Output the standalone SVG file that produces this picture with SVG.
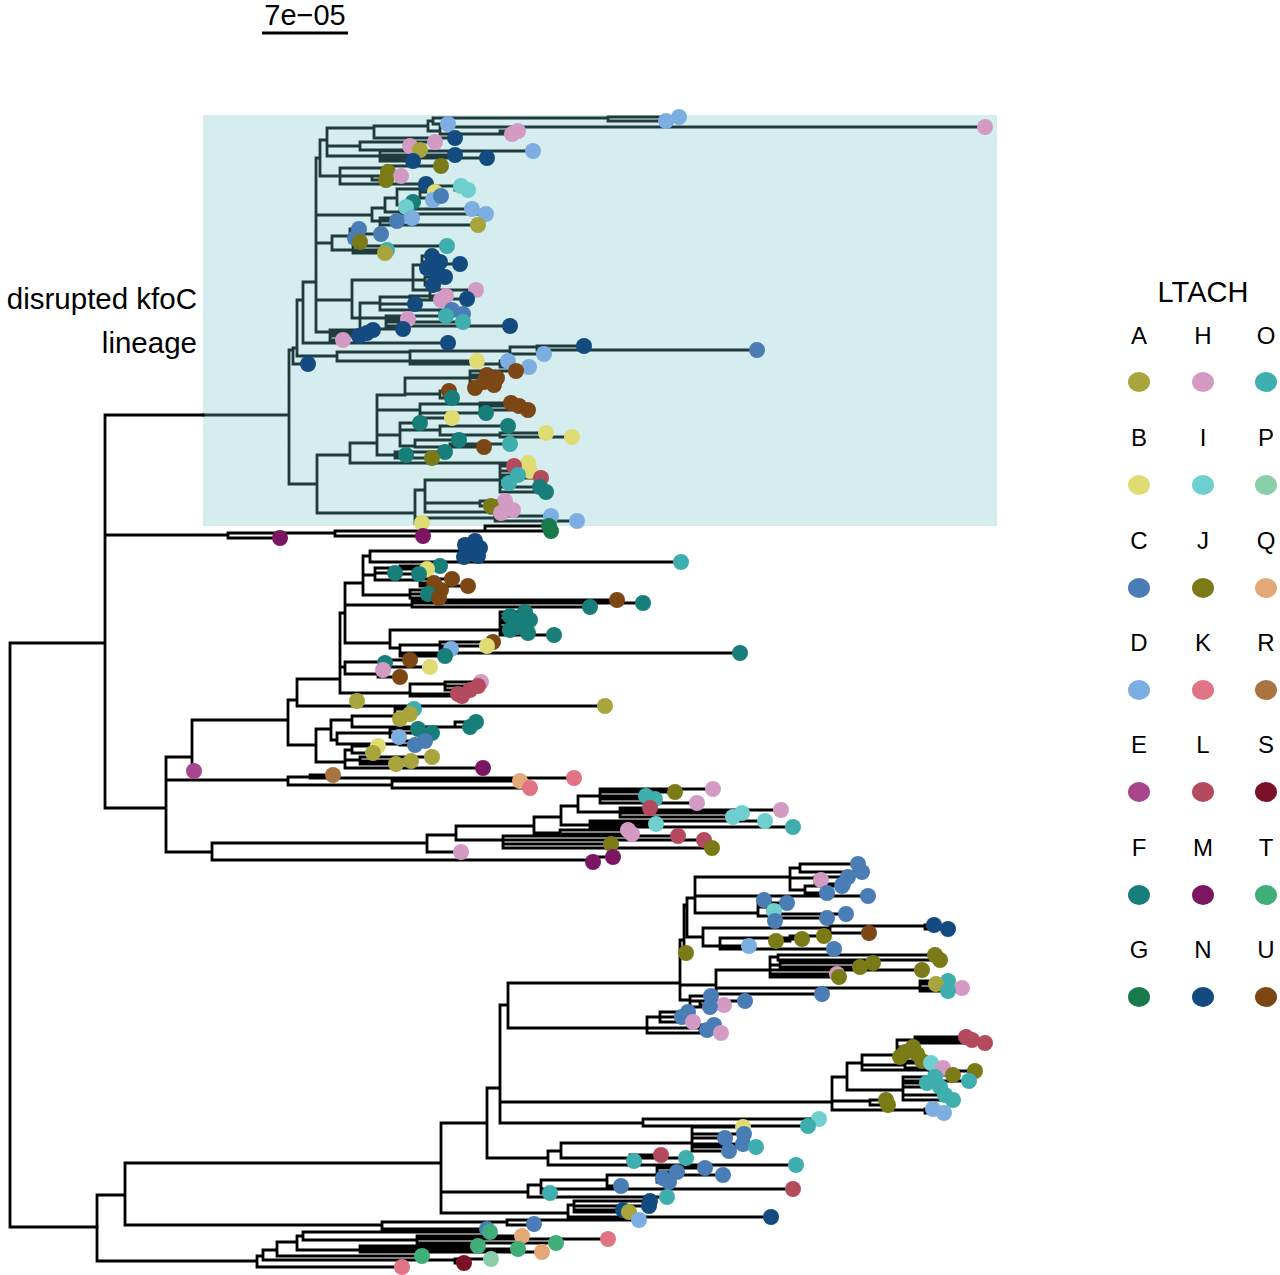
<svg xmlns="http://www.w3.org/2000/svg" width="1280" height="1275" viewBox="0 0 1280 1275">
<style>
.t{fill:none;stroke:#000;stroke-width:2.8;stroke-linecap:square}
.tb{fill:none;stroke:#1f3b3c;stroke-width:2.8;stroke-linecap:square}
.lbl{font-family:"Liberation Sans",Arial,sans-serif;fill:#000}
.a{fill:#A8A53C}.h{fill:#D39BC3}.o{fill:#3FAEAE}.b{fill:#E0DC74}.i{fill:#6FCFCF}.p{fill:#8ACFAA}.c{fill:#4A7CB5}
.j{fill:#7A7A17}.q{fill:#E3A877}.d{fill:#7CAEE2}.k{fill:#E07484}.r{fill:#A97440}.e{fill:#A8468D}.l{fill:#B44A5D}
.s{fill:#7A1128}.f{fill:#177E7A}.m{fill:#7B1662}.tt{fill:#40AE79}.g{fill:#187A4A}.n{fill:#134B80}.u{fill:#7C4714}
</style>
<rect width="1280" height="1275" fill="#fff"/>
<g id="scale-bar">
<text class="lbl" x="305" y="25" font-size="29" text-anchor="middle">7e−05</text>
<line x1="262" y1="33" x2="348" y2="33" stroke="#000" stroke-width="3"/>
</g>
<g id="highlight">
<rect x="203" y="115" width="794" height="411" fill="#d6edef"/>
<text class="lbl" x="197" y="309" font-size="29.5" text-anchor="end">disrupted kfoC</text>
<text class="lbl" x="197" y="353" font-size="29.5" text-anchor="end">lineage</text>
</g>
<g id="connectors">
<path class="tb" d="M203,415H289 M289,350V484 M289,350H293 M293,348V364 M293,364H308 M293,348H297 M297,300V356
M297,356H337 M337,352V361 M337,361H477 M337,352H410 M410,351V364 M410,364H500 M500,361V367 M500,361H508 M500,367H529 M410,351H510 M510,347V354 M510,354H544 M510,347H537 M537,346V350 M537,346H584 M537,350H757
M297,300H303 M303,282V343 M303,343H448 M303,282H316 M316,158V332
M316,158H320 M320,140V176 M320,140H327 M327,128V156 M327,128H374 M374,126V138 M374,138H455 M374,126H428 M428,121V131
M428,121H433 M433,118V124 M433,124H448 M433,118H608 M608,117V121 M608,117H679 M608,121H666
M428,131H440 M440,127V134 M440,127H985 M440,134H500 M500,131V134 M500,131H518 M500,134H512
M327,146H360 M360,142V150 M360,142H405 M405,142V146 M405,142H435 M405,146H410 M360,150H420
M327,156H380 M380,151V161 M380,151H533 M380,155H455 M380,158H487 M380,161H413
M320,176H340 M340,168V184 M340,168H386 M386,166V172 M386,166H441 M386,172H388 M340,176H372 M372,176V180 M372,176H401 M372,180H386 M340,184H426
M316,215H372 M372,208V221 M372,208H385 M385,198V212 M385,212H400 M400,209V214 M400,209H472 M400,214H486
M385,198H397 M397,189V205 M397,205H404 M404,202V207 M404,202H413 M404,207H406
M397,189H420 M420,186V198 M420,186H455 M455,186V190 M455,186H461 M455,190H468 M420,192H435 M420,198H430 M430,196V200 M430,196H441 M430,200H433
M372,221H380 M380,218V225 M380,218H412 M380,221H397 M380,225H478
M316,243H332 M332,236V250 M332,236H350 M350,229V242 M350,229H359 M350,234H381 M350,238H355 M350,242H360
M332,250H353 M353,246V253 M353,246H447 M353,250H387 M353,253H385
M316,300H352 M352,280V318 M352,280H413 M413,265V290 M413,265H422 M422,256V272 M422,256H432 M422,262H440 M422,264H460 M422,268H427 M422,272H437
M413,280H425 M425,277V285 M425,277H445 M425,285H433 M413,290H430 M430,290V299 M430,290H476 M430,299H467
M352,318H360 M360,303V329 M360,303H380 M380,297V310 M380,297H410 M410,296V300 M410,296H446 M410,300H441 M380,304H415 M380,310H440 M440,310V314 M440,310H452 M440,314H463
M360,318H386 M386,316V326 M386,316H446 M386,319H408 M386,322H463 M386,326H510 M360,329H403
M316,332H330 M330,330V340 M330,330H373 M330,333H367 M330,336H359 M330,340H343
M289,484H317 M317,455V513 M317,455H350 M350,443V463 M350,463H528 M350,443H377 M377,395V455
M377,395H405 M405,378V394 M405,378H470 M470,371V388 M470,371H516 M470,375H487 M470,378H497 M470,382H484 M470,385H494 M470,388H475
M405,394H440 M440,391V398 M440,391H449 M440,398H452
M377,410H420 M420,404V418 M420,404H480 M480,403V410 M480,403H511 M480,406H519 M480,410H528 M420,413H486 M420,418H452
M377,435H400 M400,423V446 M400,423H420 M400,430H440 M440,426V435 M440,426H508 M440,435H500 M500,433V437 M500,433H546 M500,437H572 M400,446H415 M415,440V447 M415,440H459 M415,447H450 M450,444V447 M450,444H510 M450,447H484
M377,455H395 M395,452V458 M395,452H445 M395,455H406 M395,458H432
M317,513H415 M415,490V523 M415,490H425 M425,480V512 M425,480H500 M500,466V492 M500,466H514 M500,471H530 M500,475H518 M500,478H541 M500,483H509 M500,487H540 M500,492H546
M425,503H480 M480,501V506 M480,501H505 M480,506H491 M425,512H490 M490,510V513 M490,510H513 M490,513H501
M415,518H495 M495,516V521 M495,516H551 M495,521H577 M415,523H422"/>
<path class="t" d="M10,643V1227 M10,643H105 M10,1227H97 M105,415V808 M105,415H203
M105,535H228 M228,533V538 M228,538H280 M228,533H335 M335,531V536 M335,536H423 M335,531H485 M485,526V531 M485,526H549 M485,531H551
M105,808H166 M166,757V852 M166,757H192 M192,720V771 M192,771H194 M192,720H288 M288,700V745
M288,700H297 M297,679V706 M297,679H340 M340,613V693 M297,706H352 M352,701V706 M352,701H357 M352,706H605
M288,745H316 M316,729V762 M316,729H331 M331,720V740 M331,720H352 M352,716V727 M352,716H395 M395,709V719 M395,709H414 M395,714H410 M395,719H400 M352,727H455 M455,722V727 M455,722H476 M455,727H470
M331,740H337 M337,733V744 M337,733H390 M390,729V737 M390,729H418 M390,733H432 M390,737H399 M337,744H400 M400,741V745 M400,741H425 M400,745H415
M316,762H345 M345,750V768 M345,750H352 M352,746V753 M352,746H378 M352,753H373 M345,760H360 M360,757V764 M360,757H432 M360,761H411 M360,764H396 M345,768H483
M340,613H345 M345,583V643 M345,583H363 M363,556V595 M363,556H370 M370,551V562 M370,551H460 M460,541V557 M460,541H475 M460,545H465 M460,548H480 M460,552H470 M460,556H478 M370,562H681
M363,575H375 M375,568V580 M375,568H400 M400,566V574 M400,566H440 M400,569H427 M400,574H419 M375,573H395 M375,580H420 M420,579V586 M420,579H452 M420,583H434 M420,586H468
M363,595H410 M410,590V598 M410,590H441 M410,594H428 M410,598H439
M345,605H412 M412,600V607 M412,600H617 M412,603H643 M412,607H590
M345,643H390 M390,630V648 M390,630H500 M500,612V635 M500,612H525 M500,616H510 M500,620H530 M500,623H515 M500,627H518 M500,630H510 M500,633H528 M500,635H554
M390,648H400 M400,645V656 M400,645H440 M440,642V649 M440,642H493 M440,646H487 M440,649H451 M400,653H740 M400,656H445
M340,667H345 M345,662V674 M345,662H380 M380,660V667 M380,660H410 M380,663H385 M380,667H430 M345,674H378 M378,670V677 M378,670H383 M378,677H400
M340,693H410 M410,684V696 M410,684H445 M445,682V690 M445,682H481 M445,686H478 M445,690H470 M410,694H458 M410,696H462
M166,780H288 M288,777V785 M288,777H310 M310,775V778 M310,775H333 M310,778H574 M288,785H392 M392,781V788 M392,781H520 M392,788H530
M166,852H212 M212,843V860 M212,843H427 M427,835V852 M427,852H461 M427,835H456 M456,826V840 M456,826H534 M534,817V833 M534,817H561 M561,806V825 M561,806H578 M578,796V812
M578,796H600 M600,789V803 M600,789H713 M600,792H675 M600,796H646 M600,799H655 M600,803H697
M578,812H620 M620,808V817 M620,808H650 M620,810H781 M620,813H742 M620,817H733
M561,825H590 M590,821V827 M590,821H765 M590,824H656 M590,827H793 M534,833H560 M560,830V834 M560,830H628 M560,834H632
M456,840H503 M503,836V848 M503,836H678 M503,840H704 M503,844H611 M503,848H712 M212,860H590 M590,857V862 M590,857H613 M590,862H593"/>
<path class="t" d="M97,1195V1261 M97,1195H125 M125,1163V1225 M125,1163H441 M441,1123V1213 M441,1123H487 M487,1088V1158 M487,1088H500 M500,1005V1123 M500,1005H508 M508,983V1028
M508,983H680 M680,940V1000 M680,940H684 M684,905V953 M684,953H686 M684,905H687 M687,898V937 M687,898H695 M695,877V913
M695,877H790 M790,868V890 M790,868H800 M800,864V872 M800,864H858 M800,872H862 M790,878H815 M815,877V884 M815,877H848 M815,880H821 M815,884H843 M790,890H805 M805,886V893 M805,886H842 M805,893H827 M695,896H868
M695,913H758 M758,900V916 M758,900H764 M758,907H768 M768,903V911 M768,903H787 M768,911H774 M758,916H770 M770,914V921 M770,914H846 M770,918H827 M770,921H775
M687,937H703 M703,928V946 M703,928H830 M830,926V933 M830,926H925 M925,925V929 M925,925H934 M925,929H948 M830,933H869
M703,946H720 M720,938V949 M720,938H790 M790,936V941 M790,936H824 M790,939H802 M790,941H776 M720,946H749 M720,949H834
M680,985H716 M716,970V994 M716,970H770 M770,957V977 M770,957H778 M778,955V960 M778,955H935 M778,960H940 M770,965H780 M780,963V967 M780,963H873 M780,967H860 M770,970H922 M770,974H837 M770,977H839
M716,988H920 M920,981V991 M920,981H948 M920,984H936 M920,988H962 M920,991H948 M716,994H822
M680,1000H690 M690,996V1007 M690,996H711 M690,1001H700 M700,1001V1005 M700,1001H745 M700,1005H724 M690,1007H710
M508,1028H647 M647,1017V1033 M647,1017H660 M660,1012V1022 M660,1012H688 M660,1017H682 M660,1022H693 M647,1028H700 M700,1025V1030 M700,1025H714 M700,1030H707 M647,1033H721
M500,1102H832 M832,1077V1110 M832,1077H847 M847,1063V1090 M847,1063H862 M862,1055V1070 M862,1055H897 M897,1040V1061
M897,1040H915 M915,1037V1043 M915,1037H966 M915,1040H972 M915,1043H985 M897,1047H913 M897,1052H905 M897,1054H917 M897,1057H900 M897,1061H922
M862,1065H905 M905,1063V1068 M905,1063H931 M905,1068H943 M862,1070H930 M930,1071V1075 M930,1071H975 M930,1075H953
M847,1090H903 M903,1077V1100 M903,1077H935 M903,1081H969 M903,1083H927 M903,1087H940 M903,1095H945 M903,1100H953
M832,1101H870 M870,1100V1105 M870,1100H886 M870,1105H888 M832,1110H925 M925,1109V1113 M925,1109H933 M925,1113H944
M500,1123H643 M643,1119V1126 M643,1119H819 M643,1126H808
M487,1158H548 M548,1151V1165 M548,1151H561 M561,1143V1158 M561,1143H692 M692,1127V1151 M692,1127H743 M692,1134H744 M692,1138H725 M692,1144H743 M692,1147H756 M692,1151H729
M561,1158H630 M630,1155V1161 M630,1155H661 M630,1158H686 M630,1161H634 M548,1165H796
M441,1192H528 M528,1185V1197 M528,1185H541 M541,1180V1193 M541,1180H607 M607,1175V1186 M607,1175H657 M657,1168V1182 M657,1168H705 M657,1172H677 M657,1175H723 M657,1178H663 M657,1182H669 M607,1186H621 M541,1189H793 M541,1193H550 M528,1197H667
M441,1213H568 M568,1205V1217 M568,1205H574 M574,1201V1212 M574,1201H650 M574,1206H649 M574,1210H623 M574,1212H629 M568,1217H771
M125,1225H382 M382,1222V1229 M382,1222H507 M507,1220V1225 M507,1220H639 M507,1225H534 M382,1229H487
M97,1261H257 M257,1256V1267 M257,1267H402 M257,1256H263 M263,1250V1260 M263,1260H455 M455,1259V1263 M455,1259H491 M455,1263H464
M263,1250H277 M277,1242V1256 M277,1256H422 M277,1242H297 M297,1236V1250 M297,1236H303 M303,1232V1240 M303,1232H490 M303,1240H417 M417,1236V1243 M417,1236H522 M417,1239H608 M417,1243H556
M297,1250H360 M360,1246V1252 M360,1246H478 M360,1249H518 M360,1252H542"/>
</g>
<g id="tips-kfoC">
<circle class="n" cx="308" cy="364" r="8"/><circle class="b" cx="477" cy="361" r="8"/><circle class="d" cx="508" cy="361" r="8"/><circle class="d" cx="529" cy="367" r="8"/><circle class="d" cx="544" cy="354" r="8"/><circle class="n" cx="584" cy="346" r="8"/><circle class="c" cx="757" cy="350" r="8"/><circle class="n" cx="448" cy="343" r="8"/>
<circle class="d" cx="679" cy="117" r="8"/><circle class="d" cx="666" cy="121" r="8"/><circle class="d" cx="448" cy="124" r="8"/><circle class="n" cx="455" cy="138" r="8"/><circle class="h" cx="985" cy="127" r="8"/><circle class="h" cx="518" cy="131" r="8"/><circle class="h" cx="512" cy="134" r="8"/><circle class="h" cx="435" cy="142" r="8"/><circle class="h" cx="410" cy="146" r="8"/><circle class="a" cx="420" cy="150" r="8"/><circle class="d" cx="533" cy="151" r="8"/><circle class="n" cx="455" cy="155" r="8"/><circle class="n" cx="487" cy="158" r="8"/><circle class="n" cx="413" cy="161" r="8"/><circle class="j" cx="441" cy="166" r="8"/><circle class="j" cx="388" cy="172" r="8"/><circle class="h" cx="401" cy="176" r="8"/><circle class="j" cx="386" cy="180" r="8"/><circle class="n" cx="426" cy="184" r="8"/>
<circle class="d" cx="472" cy="209" r="8"/><circle class="d" cx="486" cy="214" r="8"/><circle class="f" cx="413" cy="202" r="8"/><circle class="i" cx="406" cy="207" r="8"/><circle class="i" cx="461" cy="186" r="8"/><circle class="i" cx="468" cy="190" r="8"/><circle class="b" cx="435" cy="192" r="8"/><circle class="d" cx="433" cy="200" r="8"/><circle class="c" cx="441" cy="196" r="8"/><circle class="c" cx="397" cy="221" r="8"/><circle class="d" cx="412" cy="218" r="8"/><circle class="a" cx="478" cy="225" r="8"/>
<circle class="c" cx="359" cy="229" r="8"/><circle class="c" cx="381" cy="234" r="8"/><circle class="c" cx="355" cy="238" r="8"/><circle class="j" cx="360" cy="242" r="8"/><circle class="o" cx="447" cy="246" r="8"/><circle class="o" cx="387" cy="250" r="8"/><circle class="a" cx="385" cy="253" r="8"/>
<circle class="n" cx="432" cy="256" r="8"/><circle class="n" cx="440" cy="262" r="8"/><circle class="n" cx="460" cy="264" r="8"/><circle class="n" cx="427" cy="268" r="8"/><circle class="n" cx="437" cy="272" r="8"/><circle class="n" cx="445" cy="277" r="8"/><circle class="n" cx="433" cy="285" r="8"/><circle class="h" cx="476" cy="290" r="8"/><circle class="n" cx="467" cy="299" r="8"/><circle class="h" cx="446" cy="296" r="8"/><circle class="h" cx="441" cy="300" r="8"/><circle class="n" cx="415" cy="304" r="8"/><circle class="c" cx="452" cy="310" r="8"/><circle class="c" cx="463" cy="314" r="8"/><circle class="o" cx="446" cy="316" r="8"/><circle class="h" cx="408" cy="319" r="8"/><circle class="o" cx="463" cy="322" r="8"/><circle class="n" cx="510" cy="326" r="8"/><circle class="n" cx="403" cy="329" r="8"/>
<circle class="n" cx="373" cy="330" r="8"/><circle class="n" cx="367" cy="333" r="8"/><circle class="n" cx="359" cy="336" r="8"/><circle class="h" cx="343" cy="340" r="8"/>
<circle class="b" cx="528" cy="463" r="8"/><circle class="u" cx="516" cy="371" r="8"/><circle class="u" cx="487" cy="375" r="8"/><circle class="u" cx="497" cy="378" r="8"/><circle class="u" cx="484" cy="382" r="8"/><circle class="u" cx="494" cy="385" r="8"/><circle class="u" cx="475" cy="388" r="8"/><circle class="u" cx="449" cy="391" r="8"/><circle class="f" cx="452" cy="398" r="8"/><circle class="u" cx="511" cy="403" r="8"/><circle class="u" cx="519" cy="406" r="8"/><circle class="u" cx="528" cy="410" r="8"/><circle class="f" cx="486" cy="413" r="8"/><circle class="b" cx="452" cy="418" r="8"/><circle class="f" cx="420" cy="423" r="8"/><circle class="f" cx="508" cy="426" r="8"/><circle class="b" cx="546" cy="433" r="8"/><circle class="b" cx="572" cy="437" r="8"/><circle class="f" cx="459" cy="440" r="8"/><circle class="o" cx="510" cy="444" r="8"/><circle class="u" cx="484" cy="447" r="8"/><circle class="f" cx="445" cy="452" r="8"/><circle class="f" cx="406" cy="455" r="8"/><circle class="j" cx="432" cy="458" r="8"/>
<circle class="l" cx="514" cy="466" r="8"/><circle class="b" cx="530" cy="471" r="8"/><circle class="o" cx="518" cy="475" r="8"/><circle class="l" cx="541" cy="478" r="8"/><circle class="o" cx="509" cy="483" r="8"/><circle class="f" cx="540" cy="487" r="8"/><circle class="f" cx="546" cy="492" r="8"/><circle class="h" cx="505" cy="501" r="8"/><circle class="j" cx="491" cy="506" r="8"/><circle class="h" cx="513" cy="510" r="8"/><circle class="h" cx="501" cy="513" r="8"/><circle class="d" cx="551" cy="516" r="8"/><circle class="d" cx="577" cy="521" r="8"/><circle class="b" cx="422" cy="523" r="8"/>
</g>
<g id="tips-middle">
<circle class="m" cx="280" cy="538" r="8"/><circle class="m" cx="423" cy="536" r="8"/><circle class="g" cx="549" cy="526" r="8"/><circle class="g" cx="551" cy="531" r="8"/>
<circle class="a" cx="357" cy="701" r="8"/><circle class="a" cx="605" cy="706" r="8"/><circle class="o" cx="414" cy="709" r="8"/><circle class="a" cx="410" cy="714" r="8"/><circle class="a" cx="400" cy="719" r="8"/><circle class="f" cx="476" cy="722" r="8"/><circle class="f" cx="470" cy="727" r="8"/><circle class="f" cx="418" cy="729" r="8"/><circle class="f" cx="432" cy="733" r="8"/><circle class="d" cx="399" cy="737" r="8"/><circle class="c" cx="425" cy="741" r="8"/><circle class="c" cx="415" cy="745" r="8"/><circle class="b" cx="378" cy="746" r="8"/><circle class="a" cx="373" cy="753" r="8"/><circle class="a" cx="432" cy="757" r="8"/><circle class="a" cx="411" cy="761" r="8"/><circle class="a" cx="396" cy="764" r="8"/><circle class="m" cx="483" cy="768" r="8"/><circle class="e" cx="194" cy="771" r="8"/>
<circle class="n" cx="475" cy="541" r="8"/><circle class="n" cx="465" cy="545" r="8"/><circle class="n" cx="480" cy="548" r="8"/><circle class="n" cx="470" cy="552" r="8"/><circle class="n" cx="478" cy="556" r="8"/><circle class="n" cx="464" cy="557" r="8"/><circle class="o" cx="681" cy="562" r="8"/><circle class="f" cx="440" cy="566" r="8"/><circle class="b" cx="427" cy="569" r="8"/><circle class="f" cx="419" cy="574" r="8"/><circle class="f" cx="395" cy="573" r="8"/><circle class="u" cx="452" cy="579" r="8"/><circle class="u" cx="434" cy="583" r="8"/><circle class="u" cx="468" cy="586" r="8"/><circle class="u" cx="441" cy="590" r="8"/><circle class="f" cx="428" cy="594" r="8"/><circle class="u" cx="439" cy="598" r="8"/><circle class="u" cx="617" cy="600" r="8"/><circle class="f" cx="643" cy="603" r="8"/><circle class="f" cx="590" cy="607" r="8"/>
<circle class="f" cx="525" cy="612" r="8"/><circle class="f" cx="510" cy="616" r="8"/><circle class="f" cx="530" cy="620" r="8"/><circle class="f" cx="515" cy="623" r="8"/><circle class="f" cx="518" cy="627" r="8"/><circle class="f" cx="510" cy="630" r="8"/><circle class="f" cx="528" cy="633" r="8"/><circle class="f" cx="554" cy="635" r="8"/><circle class="u" cx="493" cy="642" r="8"/><circle class="b" cx="487" cy="646" r="8"/><circle class="d" cx="451" cy="649" r="8"/><circle class="f" cx="740" cy="653" r="8"/><circle class="f" cx="445" cy="656" r="8"/><circle class="u" cx="410" cy="660" r="8"/><circle class="f" cx="385" cy="663" r="8"/><circle class="b" cx="430" cy="667" r="8"/><circle class="h" cx="383" cy="670" r="8"/><circle class="u" cx="400" cy="677" r="8"/><circle class="h" cx="481" cy="682" r="8"/><circle class="l" cx="478" cy="686" r="8"/><circle class="l" cx="470" cy="690" r="8"/><circle class="l" cx="458" cy="694" r="8"/><circle class="l" cx="462" cy="696" r="8"/>
<circle class="r" cx="333" cy="775" r="8"/><circle class="k" cx="574" cy="778" r="8"/><circle class="q" cx="520" cy="781" r="8"/><circle class="k" cx="530" cy="788" r="8"/>
<circle class="h" cx="713" cy="789" r="8"/><circle class="j" cx="675" cy="792" r="8"/><circle class="o" cx="646" cy="796" r="8"/><circle class="o" cx="655" cy="799" r="8"/><circle class="h" cx="697" cy="803" r="8"/><circle class="l" cx="650" cy="808" r="8"/><circle class="h" cx="781" cy="810" r="8"/><circle class="i" cx="742" cy="813" r="8"/><circle class="i" cx="733" cy="817" r="8"/><circle class="i" cx="765" cy="821" r="8"/><circle class="i" cx="656" cy="824" r="8"/><circle class="o" cx="793" cy="827" r="8"/><circle class="h" cx="628" cy="830" r="8"/><circle class="h" cx="632" cy="834" r="8"/><circle class="l" cx="678" cy="836" r="8"/><circle class="l" cx="704" cy="840" r="8"/><circle class="j" cx="611" cy="844" r="8"/><circle class="j" cx="712" cy="848" r="8"/><circle class="h" cx="461" cy="852" r="8"/><circle class="m" cx="613" cy="857" r="8"/><circle class="m" cx="593" cy="862" r="8"/>
</g>
<g id="tips-lower">
<circle class="c" cx="858" cy="864" r="8"/><circle class="c" cx="862" cy="872" r="8"/><circle class="c" cx="848" cy="877" r="8"/><circle class="h" cx="821" cy="880" r="8"/><circle class="c" cx="843" cy="884" r="8"/><circle class="c" cx="842" cy="886" r="8"/><circle class="c" cx="827" cy="893" r="8"/><circle class="c" cx="868" cy="896" r="8"/><circle class="c" cx="764" cy="900" r="8"/><circle class="c" cx="787" cy="903" r="8"/><circle class="i" cx="774" cy="911" r="8"/><circle class="c" cx="846" cy="914" r="8"/><circle class="c" cx="827" cy="918" r="8"/><circle class="c" cx="775" cy="921" r="8"/>
<circle class="n" cx="934" cy="925" r="8"/><circle class="n" cx="948" cy="929" r="8"/><circle class="u" cx="869" cy="933" r="8"/><circle class="j" cx="824" cy="936" r="8"/><circle class="j" cx="802" cy="939" r="8"/><circle class="j" cx="776" cy="941" r="8"/><circle class="d" cx="749" cy="946" r="8"/><circle class="c" cx="834" cy="949" r="8"/><circle class="j" cx="686" cy="953" r="8"/>
<circle class="j" cx="935" cy="955" r="8"/><circle class="j" cx="940" cy="960" r="8"/><circle class="j" cx="873" cy="963" r="8"/><circle class="j" cx="860" cy="967" r="8"/><circle class="j" cx="922" cy="970" r="8"/><circle class="h" cx="837" cy="974" r="8"/><circle class="j" cx="839" cy="977" r="8"/><circle class="o" cx="948" cy="981" r="8"/><circle class="a" cx="936" cy="984" r="8"/><circle class="h" cx="962" cy="988" r="8"/><circle class="o" cx="948" cy="991" r="8"/><circle class="c" cx="822" cy="994" r="8"/>
<circle class="c" cx="711" cy="996" r="8"/><circle class="c" cx="745" cy="1001" r="8"/><circle class="h" cx="724" cy="1005" r="8"/><circle class="c" cx="710" cy="1007" r="8"/><circle class="c" cx="688" cy="1012" r="8"/><circle class="c" cx="682" cy="1017" r="8"/><circle class="h" cx="693" cy="1022" r="8"/><circle class="c" cx="714" cy="1025" r="8"/><circle class="c" cx="707" cy="1030" r="8"/><circle class="h" cx="721" cy="1033" r="8"/>
<circle class="l" cx="966" cy="1037" r="8"/><circle class="l" cx="972" cy="1040" r="8"/><circle class="l" cx="985" cy="1043" r="8"/><circle class="j" cx="913" cy="1047" r="8"/><circle class="j" cx="905" cy="1052" r="8"/><circle class="j" cx="917" cy="1054" r="8"/><circle class="j" cx="900" cy="1057" r="8"/><circle class="j" cx="922" cy="1061" r="8"/><circle class="i" cx="931" cy="1063" r="8"/><circle class="h" cx="943" cy="1068" r="8"/><circle class="j" cx="975" cy="1071" r="8"/><circle class="j" cx="953" cy="1075" r="8"/><circle class="o" cx="935" cy="1077" r="8"/><circle class="o" cx="969" cy="1081" r="8"/><circle class="o" cx="927" cy="1083" r="8"/><circle class="o" cx="940" cy="1087" r="8"/><circle class="o" cx="945" cy="1095" r="8"/><circle class="o" cx="953" cy="1100" r="8"/><circle class="j" cx="886" cy="1100" r="8"/><circle class="j" cx="888" cy="1105" r="8"/><circle class="d" cx="933" cy="1109" r="8"/><circle class="d" cx="944" cy="1113" r="8"/>
<circle class="i" cx="819" cy="1119" r="8"/><circle class="o" cx="808" cy="1126" r="8"/>
<circle class="b" cx="743" cy="1127" r="8"/><circle class="c" cx="744" cy="1134" r="8"/><circle class="c" cx="725" cy="1138" r="8"/><circle class="c" cx="743" cy="1144" r="8"/><circle class="o" cx="756" cy="1147" r="8"/><circle class="c" cx="729" cy="1151" r="8"/><circle class="l" cx="661" cy="1155" r="8"/><circle class="o" cx="686" cy="1158" r="8"/><circle class="o" cx="634" cy="1161" r="8"/><circle class="o" cx="796" cy="1165" r="8"/>
<circle class="c" cx="705" cy="1168" r="8"/><circle class="c" cx="677" cy="1172" r="8"/><circle class="c" cx="723" cy="1175" r="8"/><circle class="c" cx="663" cy="1178" r="8"/><circle class="c" cx="669" cy="1182" r="8"/><circle class="c" cx="621" cy="1186" r="8"/><circle class="l" cx="793" cy="1189" r="8"/><circle class="o" cx="550" cy="1193" r="8"/><circle class="o" cx="667" cy="1197" r="8"/>
<circle class="n" cx="650" cy="1201" r="8"/><circle class="n" cx="649" cy="1206" r="8"/><circle class="n" cx="623" cy="1210" r="8"/><circle class="a" cx="629" cy="1212" r="8"/><circle class="n" cx="771" cy="1217" r="8"/><circle class="d" cx="639" cy="1220" r="8"/><circle class="c" cx="534" cy="1224" r="8"/><circle class="c" cx="487" cy="1229" r="8"/>
<circle class="tt" cx="490" cy="1232" r="8"/><circle class="q" cx="522" cy="1236" r="8"/><circle class="k" cx="608" cy="1239" r="8"/><circle class="tt" cx="556" cy="1243" r="8"/><circle class="tt" cx="478" cy="1246" r="8"/><circle class="tt" cx="518" cy="1249" r="8"/><circle class="q" cx="542" cy="1252" r="8"/><circle class="tt" cx="422" cy="1256" r="8"/><circle class="p" cx="491" cy="1259" r="8"/><circle class="s" cx="464" cy="1263" r="8"/><circle class="k" cx="402" cy="1267" r="8"/>
</g>
<g id="legend" class="lbl" text-anchor="middle">
<text x="1203" y="302" font-size="29">LTACH</text>
<g font-size="24">
<text x="1139" y="344">A</text><text x="1203" y="344">H</text><text x="1266" y="344">O</text>
<text x="1139" y="446">B</text><text x="1203" y="446">I</text><text x="1266" y="446">P</text>
<text x="1139" y="549">C</text><text x="1203" y="549">J</text><text x="1266" y="549">Q</text>
<text x="1139" y="651">D</text><text x="1203" y="651">K</text><text x="1266" y="651">R</text>
<text x="1139" y="753">E</text><text x="1203" y="753">L</text><text x="1266" y="753">S</text>
<text x="1139" y="856">F</text><text x="1203" y="856">M</text><text x="1266" y="856">T</text>
<text x="1139" y="958">G</text><text x="1203" y="958">N</text><text x="1266" y="958">U</text>
</g>
<ellipse class="a" cx="1139" cy="382" rx="11" ry="10"/><ellipse class="h" cx="1203" cy="382" rx="11" ry="10"/><ellipse class="o" cx="1266" cy="382" rx="11" ry="10"/>
<ellipse class="b" cx="1139" cy="485" rx="11" ry="10"/><ellipse class="i" cx="1203" cy="485" rx="11" ry="10"/><ellipse class="p" cx="1266" cy="485" rx="11" ry="10"/>
<ellipse class="c" cx="1139" cy="588" rx="11" ry="10"/><ellipse class="j" cx="1203" cy="588" rx="11" ry="10"/><ellipse class="q" cx="1266" cy="588" rx="11" ry="10"/>
<ellipse class="d" cx="1139" cy="690" rx="11" ry="10"/><ellipse class="k" cx="1203" cy="690" rx="11" ry="10"/><ellipse class="r" cx="1266" cy="690" rx="11" ry="10"/>
<ellipse class="e" cx="1139" cy="792" rx="11" ry="10"/><ellipse class="l" cx="1203" cy="792" rx="11" ry="10"/><ellipse class="s" cx="1266" cy="792" rx="11" ry="10"/>
<ellipse class="f" cx="1139" cy="895" rx="11" ry="10"/><ellipse class="m" cx="1203" cy="895" rx="11" ry="10"/><ellipse class="tt" cx="1266" cy="895" rx="11" ry="10"/>
<ellipse class="g" cx="1139" cy="997" rx="11" ry="10"/><ellipse class="n" cx="1203" cy="997" rx="11" ry="10"/><ellipse class="u" cx="1266" cy="997" rx="11" ry="10"/>
</g>
</svg>
